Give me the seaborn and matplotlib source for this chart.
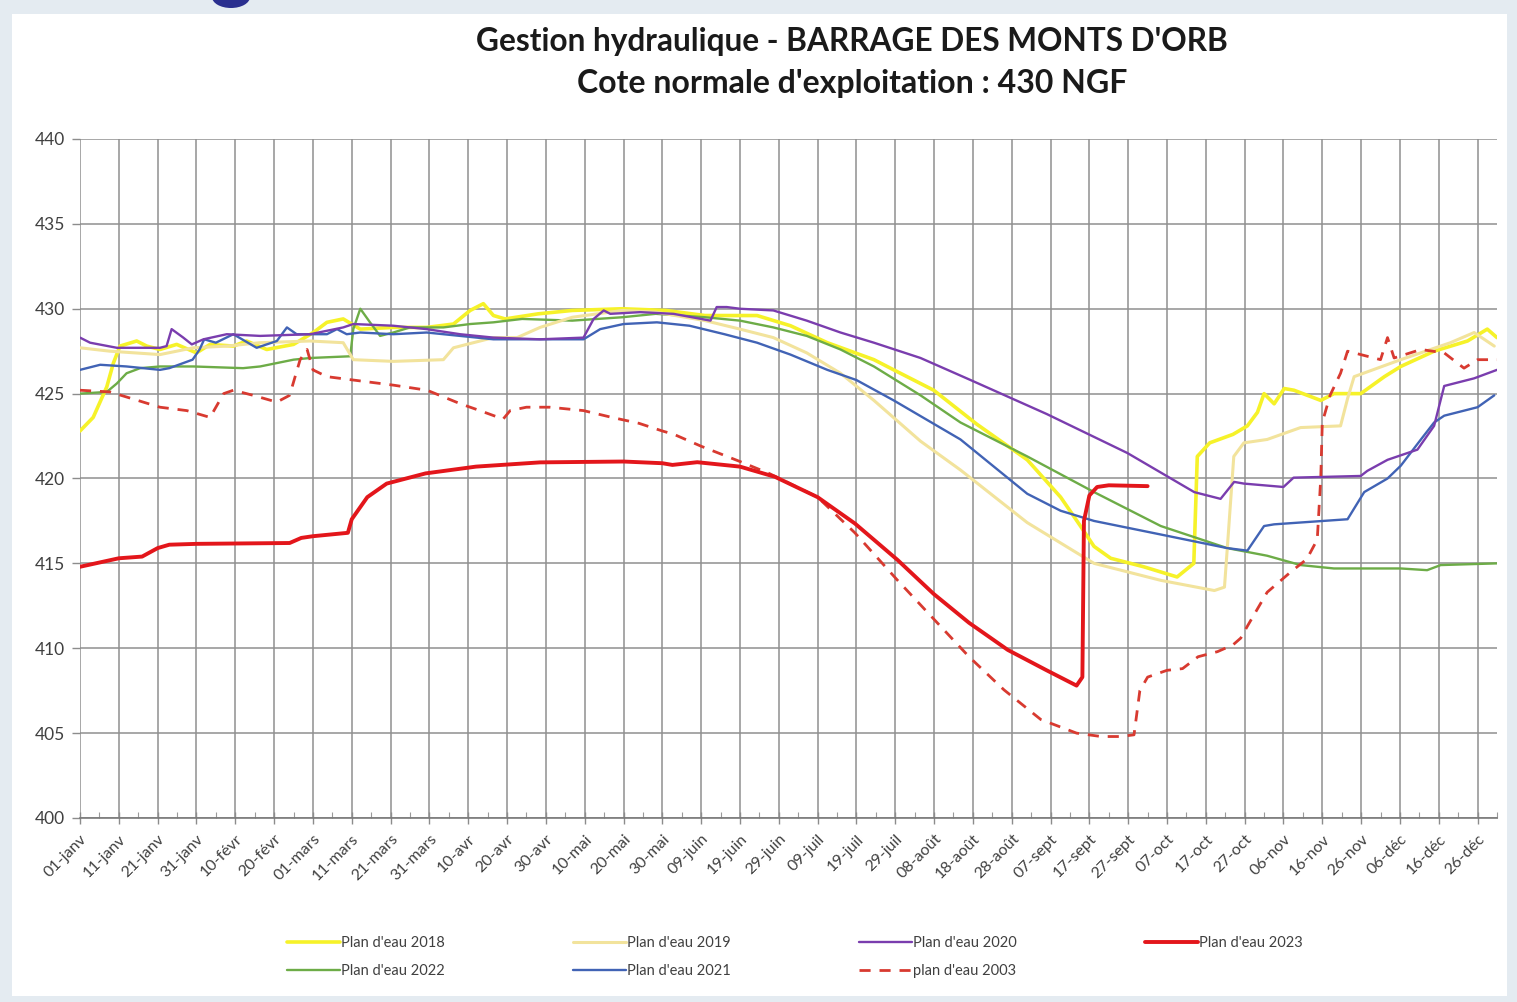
import matplotlib
matplotlib.use("Agg")
import matplotlib.pyplot as plt
from matplotlib.patches import Rectangle, Ellipse
import pandas as pd
import seaborn as sns

# jours depuis le 01-janv (année de référence bissextile) et cotes NGF
jours_2018 = [0, 3.4, 6.9, 8.6, 10.3, 14.6, 17.2, 20.6, 24.9, 30, 33.5, 39.5, 42.9, 48.1, 55,
              60.1, 63.6, 67.8, 72.2, 80.7, 89.3, 96.2, 100.5, 103.9, 106.5, 109.5, 118, 126.8,
              139.7, 150.9, 161, 174.4, 183, 192.5, 204.5, 209.6, 219.9, 231, 244, 252.6, 257.7,
              261.2, 265.5, 274, 282.6, 286.9, 287.8, 291, 297, 300.7, 303.3, 305, 307.6, 310.2,
              312.7, 319.6, 323, 329.9, 336, 340.2, 348.8, 357.4, 362.5, 365]
cote_2018 = [422.8, 423.6, 425.4, 426.8, 427.8, 428.1, 427.8, 427.6, 427.9, 427.4, 427.9, 427.8,
             428.1, 427.6, 427.9, 428.6, 429.2, 429.4, 428.8, 428.9, 428.9, 429.1, 429.9, 430.3,
             429.6, 429.4, 429.7, 429.9, 430.0, 429.9, 429.6, 429.6, 429.0, 428.0, 427.0, 426.4,
             425.2, 423.2, 421.1, 418.9, 417.2, 416.0, 415.3, 414.8, 414.2, 415.0, 421.3, 422.1,
             422.6, 423.1, 423.9, 425.0, 424.4, 425.3, 425.2, 424.6, 425.0, 425.0, 426.0, 426.6,
             427.5, 428.1, 428.8, 428.3]

jours_2019 = [0, 7.7, 20.6, 29.2, 37.8, 46.4, 59.3, 67.8, 70.4, 80.7, 93.6, 96.2, 99.6, 106.5,
              112.6, 118.5, 126.8, 139.7, 148.3, 161, 170, 178.6, 187.2, 195.9, 204.5, 216.5,
              226.8, 244, 261.2, 278.4, 292.2, 294.8, 295.5, 297.2, 299.8, 305.8, 314.4, 324.7,
              326.5, 328.2, 340.2, 353, 359.1, 364.3]
cote_2019 = [427.7, 427.5, 427.3, 427.7, 427.8, 428.0, 428.1, 428.0, 427.0, 426.9, 427.0, 427.7,
             427.9, 428.3, 428.3, 428.9, 429.5, 429.9, 429.8, 429.3, 428.8, 428.3, 427.4, 426.2,
             424.6, 422.2, 420.5, 417.4, 415.0, 414.0, 413.4, 413.6, 415.8, 421.3, 422.1, 422.3,
             423.0, 423.1, 424.7, 426.0, 427.0, 428.0, 428.6, 427.8]

jours_2020 = [0, 2.6, 9.5, 20.6, 22.3, 23.6, 26.6, 28.8, 31.8, 37.8, 46.4, 59.3, 67.8, 70.4,
              80.7, 89.3, 97.9, 106.5, 118.5, 129.7, 132.3, 134.9, 136.6, 144.3, 152.9, 162.4,
              164, 166.6, 170, 178.6, 187.2, 195.9, 204.5, 216.5, 229.4, 249, 269.8, 287, 293.8,
              297.3, 299.8, 310, 312.6, 329.9, 331.6, 336.8, 344.5, 348.8, 351.4, 353.1, 359.1, 365]
cote_2020 = [428.3, 428.0, 427.7, 427.7, 427.8, 428.8, 428.3, 427.9, 428.2, 428.5, 428.4, 428.5,
             428.9, 429.1, 429.0, 428.8, 428.5, 428.3, 428.2, 428.3, 429.4, 429.9, 429.7, 429.8,
             429.7, 429.3, 430.1, 430.1, 430.0, 429.9, 429.3, 428.6, 428.0, 427.1, 425.8, 423.8,
             421.5, 419.2, 418.8, 419.8, 419.7, 419.5, 420.05, 420.15, 420.45, 421.1, 421.7,
             423.1, 425.45, 425.55, 425.9, 426.4]

jours_2021 = [0, 5.2, 12, 20.6, 23, 29, 30.8, 32, 35, 39.5, 45.5, 50.7, 53.3, 55.8, 63.6, 66.2,
              68.7, 72.2, 80.7, 89.3, 97.9, 106.5, 118.5, 129.7, 134, 140, 148.6, 157, 166,
              174.4, 183, 192.5, 200, 209.6, 226.8, 235.4, 244, 252.6, 261.2, 278.4, 295.5,
              300.7, 305, 307.6, 326.5, 330.8, 336.8, 340.2, 345.4, 348.8, 351.4, 360, 364.3]
cote_2021 = [426.4, 426.7, 426.6, 426.4, 426.5, 427.0, 427.6, 428.2, 428.0, 428.5, 427.7, 428.1,
             428.9, 428.5, 428.5, 428.8, 428.5, 428.6, 428.5, 428.6, 428.4, 428.2, 428.2, 428.2,
             428.8, 429.1, 429.2, 429.0, 428.5, 428.0, 427.3, 426.4, 425.8, 424.6, 422.3, 420.7,
             419.1, 418.1, 417.5, 416.7, 415.9, 415.75, 417.2, 417.3, 417.6, 419.2, 420.0,
             420.75, 422.3, 423.3, 423.7, 424.2, 424.9]

jours_2022 = [0, 6.9, 9.5, 12, 15.5, 20.6, 29.2, 42, 46.4, 55, 59.3, 69.6, 70.4, 72.2, 74.7,
              77.3, 80.7, 85, 93.6, 100.5, 106.5, 113.9, 126.8, 139.7, 148.3, 161, 170, 178.6,
              187.2, 195.9, 204.5, 216.5, 226.8, 244, 261.2, 278.4, 295.5, 305.8, 314.4, 323,
              340.2, 347, 350.5, 365]
cote_2022 = [425.0, 425.1, 425.6, 426.2, 426.5, 426.6, 426.6, 426.5, 426.6, 427.0, 427.1, 427.2,
             428.8, 430.0, 429.2, 428.4, 428.6, 428.9, 428.9, 429.1, 429.2, 429.4, 429.3, 429.5,
             429.7, 429.5, 429.3, 428.9, 428.4, 427.6, 426.6, 424.9, 423.3, 421.3, 419.2, 417.2,
             415.9, 415.45, 414.9, 414.7, 414.7, 414.6, 414.9, 415.0]

jours_2023 = [0, 10, 16, 20, 23, 30, 54, 57, 60, 69, 70, 74, 79, 89, 102, 118.5, 140, 150,
              152.6, 159, 170, 179, 190, 199.6, 210.6, 219.9, 229, 239, 249, 256.7, 258.2,
              258.6, 260, 262, 265, 275]
cote_2023 = [414.8, 415.3, 415.4, 415.9, 416.1, 416.15, 416.2, 416.5, 416.6, 416.8, 417.6, 418.9,
             419.7, 420.3, 420.7, 420.95, 421.0, 420.9, 420.8, 420.96, 420.7, 420.1, 418.9,
             417.35, 415.2, 413.2, 411.5, 409.9, 408.7, 407.8, 408.3, 417.5, 419.0, 419.5,
             419.6, 419.55]

jours_2003 = [0, 7.7, 12, 20.6, 27.5, 33.5, 37, 39.5, 44.6, 50.7, 54, 56.7, 58.5, 60, 63.6,
              70.4, 80.7, 89.4, 98, 103, 109, 110.8, 115, 121, 129.7, 137, 144, 150, 153, 160,
              170, 177.5, 190, 199.6, 210.6, 220, 229, 238, 247.5, 256.7, 263, 268, 271.5, 273,
              275, 280, 284, 288, 293, 297, 299, 300.7, 305.8, 311.9, 316, 318.7, 319.6, 320,
              322, 324.7, 326.5, 331.6, 335, 336.8, 338.5, 345.4, 351.4, 356.5, 360, 365]
cote_2003 = [425.2, 425.1, 424.8, 424.2, 424.0, 423.6, 425.0, 425.2, 424.9, 424.5, 424.9, 427.0,
             427.6, 426.4, 426.0, 425.8, 425.5, 425.2, 424.4, 424.0, 423.5, 424.0, 424.2, 424.2,
             424.0, 423.6, 423.25, 422.8, 422.6, 421.9, 421.0, 420.3, 418.9, 416.8, 414.0,
             411.7, 409.5, 407.55, 405.8, 405.0, 404.8, 404.8, 404.9, 407.5, 408.3, 408.7,
             408.8, 409.5, 409.8, 410.2, 410.6, 411.3, 413.3, 414.5, 415.25, 416.4, 420.0,
             423.3, 424.9, 426.2, 427.5, 427.2, 427.0, 428.3, 427.1, 427.6, 427.4, 426.5,
             427.0, 427.0]

etiquettes_x = ["01-janv", "11-janv", "21-janv", "31-janv", "10-févr", "20-févr", "01-mars",
                "11-mars", "21-mars", "31-mars", "10-avr", "20-avr", "30-avr", "10-mai",
                "20-mai", "30-mai", "09-juin", "19-juin", "29-juin", "09-juil", "19-juil",
                "29-juil", "08-août", "18-août", "28-août", "07-sept", "17-sept", "27-sept",
                "07-oct", "17-oct", "27-oct", "06-nov", "16-nov", "26-nov", "06-déc", "16-déc",
                "26-déc"]

sns.set_style("white")
plt.rcParams["font.family"] = ["Lato", "DejaVu Sans"]

fig = plt.figure(figsize=(15.17, 10.02), dpi=100, facecolor="#e4ebf1")
# panneau blanc de la diapositive
fig.patches.append(Rectangle((12 / 1517, 1 - 996 / 1002), 1495 / 1517, 982 / 1002,
                             transform=fig.transFigure, facecolor="white", edgecolor="none",
                             zorder=-10))
# reste du titre de la diapositive, coupé en haut
fig.patches.append(Ellipse((231 / 1517, 1 + 3 / 1002), 38 / 1517, 22 / 1002,
                           transform=fig.transFigure, facecolor="#2a2f8f", edgecolor="none",
                           zorder=-5))

ax = fig.add_axes([80 / 1517, 1 - 818 / 1002, 1417 / 1517, 679 / 1002])
ax.set_facecolor("none")

series = [
    ("Plan d'eau 2018", jours_2018, cote_2018, "#f6f229", 2.6, None),
    ("Plan d'eau 2022", jours_2022, cote_2022, "#6dac47", 1.7, None),
    ("Plan d'eau 2019", jours_2019, cote_2019, "#f2e39c", 2.2, None),
    ("Plan d'eau 2021", jours_2021, cote_2021, "#4163b5", 1.7, None),
    ("Plan d'eau 2020", jours_2020, cote_2020, "#7a3dae", 1.7, None),
    ("plan d'eau 2003", jours_2003, cote_2003, "#d83a30", 2.0, (4, 3.2)),
    ("Plan d'eau 2023", jours_2023, cote_2023, "#e3161b", 2.8, None),
]

for nom, jours, cotes, couleur, lw, tirets in series:
    df = pd.DataFrame({"jour": jours, "cote": cotes})
    sns.lineplot(data=df, x="jour", y="cote", ax=ax, color=couleur, linewidth=lw,
                 label=nom, sort=False, estimator=None, legend=False)
    if tirets:
        ax.lines[-1].set_dashes(tirets)
    if nom.endswith("2023"):
        ax.lines[-1].set_zorder(5)

ax.set_xlim(0, 365)
ax.set_ylim(400, 440)
ax.set_xticks(range(0, 361, 10))
ax.set_xticks(range(5, 366, 10), minor=True)
ax.set_xticklabels(etiquettes_x, rotation=45, ha="right", rotation_mode="anchor",
                   fontsize=11.5, color="#404040")
ax.set_yticks(range(400, 441, 5))
ax.tick_params(axis="y", labelsize=12.5, labelcolor="#404040", length=6, width=1,
               color="#8c8c8c", left=True, pad=5)
ax.tick_params(axis="x", which="major", length=8, width=1, color="#8c8c8c", bottom=True,
               direction="inout", pad=6)
ax.tick_params(axis="x", which="minor", length=4, width=0.8, color="#9a9a9a", bottom=True,
               direction="in")
ax.grid(True, which="major", color="#8f8f8f", linewidth=1.1)
ax.set_axisbelow(True)
for cote_spine in ["top", "right", "left"]:
    ax.spines[cote_spine].set_visible(False)
ax.spines["bottom"].set_color("#7a7a7a")
ax.spines["bottom"].set_linewidth(1.2)
ax.set_xlabel("")
ax.set_ylabel("")

fig.text(852 / 1517, 1 - 41 / 1002, "Gestion hydraulique - BARRAGE DES MONTS D'ORB",
         ha="center", va="center", fontsize=22.8, fontweight="bold", color="#1a1a1a")
fig.text(852 / 1517, 1 - 83 / 1002, "Cote normale d'exploitation : 430 NGF",
         ha="center", va="center", fontsize=23, fontweight="bold", color="#1a1a1a")

poignees, noms = ax.get_legend_handles_labels()
fig.legend(poignees, noms, ncol=4, loc="center", bbox_to_anchor=(795 / 1517, 1 - 957 / 1002),
           frameon=False, fontsize=10.5, handlelength=3.6, columnspacing=8.8,
           handletextpad=0.1, labelspacing=1.0, labelcolor="#404040")

fig.savefig("out.png", dpi=100, facecolor=fig.get_facecolor())
